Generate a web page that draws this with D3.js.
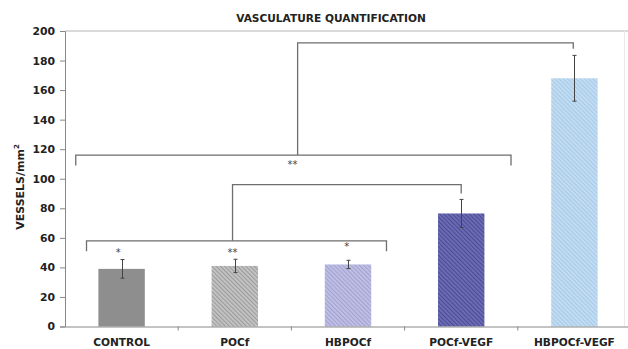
<!DOCTYPE html>
<html>
<head>
<meta charset="utf-8">
<script src="https://cdn.jsdelivr.net/npm/d3@7"></script>
<style>
  html, body { margin: 0; padding: 0; background: #fff; }
  svg { display: block; font-family: "DejaVu Sans", Verdana, sans-serif; }
</style>
</head>
<body>
<svg id="chart" width="628" height="349"></svg>
<script>
// Data
const categories = ['CONTROL', 'POCf', 'HBPOCf', 'POCf-VEGF', 'HBPOCf-VEGF'];
const means = [39, 41, 42, 76.5, 168];
const errors = [6.3, 4.5, 2.8, 9.5, 15.5];
const yTicks = [0, 20, 40, 60, 80, 100, 120, 140, 160, 180, 200];

// Bar looks: base colour, hatch line colour
const fills = ['#8e8e8e', '#c6c6c6', '#c2c2e6', '#6e6eb6', '#c4def3'];
const hatch = [null, '#9c9c9c', '#a2a2d2', '#4c4c96', '#a6cae8'];

// Significance brackets: ends as [category, offset in bands], level and drop in data units
const brackets = [
    { from: [0, -0.31], to: [2, 0.34], level: 58, end: 51 },
    { from: [1, -0.02], to: [3, 0], level: 96, end: 90, stemFrom: 58 },
    { from: [0, -0.405], to: [3, 0.44], level: 116, end: 109 },
    { from: [2, -0.445], to: [4, -0.01], level: 192, end: 188, stemFrom: 116 }
];
// Stars: [category, offset in bands, value, text]
const stars = [
    [0, -0.03, 48, '*'],
    [1, -0.02, 48, '**'],
    [2, -0.01, 52, '*'],
    [2, -0.49, 107, '**']
];

const svg = d3.select('#chart');
const margin = { left: 65, right: -3, top: 31, bottom: 22 };
const width = 628, height = 349;

const x = d3.scaleBand().domain(d3.range(categories.length))
    .range([margin.left, width - margin.right]).paddingInner(0).paddingOuter(0);
const y = d3.scaleLinear().domain([0, 200]).range([height - margin.bottom - 0.5, margin.top]);
const bw = x.bandwidth() * 0.41;
const cx = (i, off) => x(i) + x.bandwidth() / 2 + off * x.bandwidth();

// Hatch patterns (lines running top-left to bottom-right)
const defs = svg.append('defs');
fills.forEach((c, i) => {
    if (!hatch[i]) return;
    const p = defs.append('pattern')
        .attr('id', 'hatch' + i)
        .attr('patternUnits', 'userSpaceOnUse')
        .attr('width', 3).attr('height', 3)
        .attr('patternTransform', 'rotate(-45)');
    p.append('rect').attr('width', 3).attr('height', 3).attr('fill', c);
    p.append('rect').attr('width', 1.2).attr('height', 3).attr('fill', hatch[i]);
});

// Title
svg.append('text')
    .attr('x', 331).attr('y', 22)
    .attr('text-anchor', 'middle')
    .attr('font-size', 10.6).attr('font-weight', 'bold').attr('fill', '#222')
    .text('VASCULATURE QUANTIFICATION');

// Plot frame (top and right)
svg.append('line')
    .attr('x1', margin.left).attr('x2', width)
    .attr('y1', y(200)).attr('y2', y(200))
    .attr('stroke', '#b4b4b4').attr('stroke-width', 1);
svg.append('line')
    .attr('x1', 624.5).attr('x2', 624.5)
    .attr('y1', y(200)).attr('y2', y(0))
    .attr('stroke', '#eaeaea').attr('stroke-width', 1);

// Y axis
const yAxis = svg.append('g')
    .attr('transform', `translate(${margin.left},0)`)
    .call(d3.axisLeft(y).tickValues(yTicks).tickSize(5).tickPadding(5));
yAxis.select('.domain').attr('stroke', '#888');
yAxis.selectAll('.tick line').attr('stroke', '#888');
yAxis.selectAll('.tick text')
    .attr('font-size', 10.8).attr('font-weight', 'bold').attr('fill', '#222')
    .attr('font-family', '"DejaVu Sans", Verdana, sans-serif');

// Bars
svg.append('g').selectAll('rect')
    .data(means)
    .join('rect')
    .attr('x', (d, i) => cx(i, 0) - bw / 2)
    .attr('y', d => y(d))
    .attr('width', bw)
    .attr('height', d => y(0) - y(d))
    .attr('fill', (d, i) => hatch[i] ? `url(#hatch${i})` : fills[i]);

// X axis
const xAxis = svg.append('g')
    .attr('transform', `translate(0,${y(0)})`)
    .call(d3.axisBottom(x).tickSize(0).tickPadding(12).tickFormat(i => categories[i]));
xAxis.select('.domain').attr('stroke', '#888');
xAxis.selectAll('.tick text')
    .attr('font-size', 10.6).attr('font-weight', 'bold').attr('fill', '#222')
    .attr('font-family', '"DejaVu Sans", Verdana, sans-serif');
// small ticks between categories
svg.append('g').selectAll('line')
    .data(d3.range(1, categories.length))
    .join('line')
    .attr('x1', i => x(i)).attr('x2', i => x(i))
    .attr('y1', y(0)).attr('y2', y(0) + 4)
    .attr('stroke', '#888');

// Error bars
const eb = svg.append('g').attr('stroke', '#444').attr('stroke-width', 1);
means.forEach((m, i) => {
    const c = Math.round(cx(i, 0)) + 0.5;
    eb.append('line').attr('x1', c).attr('x2', c).attr('y1', y(m + errors[i])).attr('y2', y(m - errors[i]));
    [m + errors[i], m - errors[i]].forEach(v => {
        eb.append('line').attr('x1', c - 2).attr('x2', c + 2).attr('y1', y(v)).attr('y2', y(v));
    });
});

// Brackets
const br = svg.append('g').attr('fill', 'none').attr('stroke', '#6e6e6e').attr('stroke-width', 1.3);
brackets.forEach(b => {
    const x1 = cx(b.from[0], b.from[1]), x2 = cx(b.to[0], b.to[1]);
    const start = b.stemFrom !== undefined ? b.stemFrom : b.end;
    br.append('path').attr('d', d3.line()([[x1, y(start)], [x1, y(b.level)], [x2, y(b.level)], [x2, y(b.end)]]));
});

// Stars
svg.append('g').selectAll('text')
    .data(stars)
    .join('text')
    .attr('x', d => cx(d[0], d[1]))
    .attr('y', d => y(d[2]))
    .attr('text-anchor', 'middle')
    .attr('font-size', 10).attr('fill', '#444')
    .text(d => d[3]);

// Y label
svg.append('text')
    .attr('transform', 'translate(24,187) rotate(-90)')
    .attr('text-anchor', 'middle')
    .attr('font-size', 11).attr('font-weight', 'bold').attr('fill', '#222')
    .text('VESSELS/mm')
    .append('tspan').attr('font-size', 7).attr('dy', -5).text('2');
</script>
</body>
</html>
